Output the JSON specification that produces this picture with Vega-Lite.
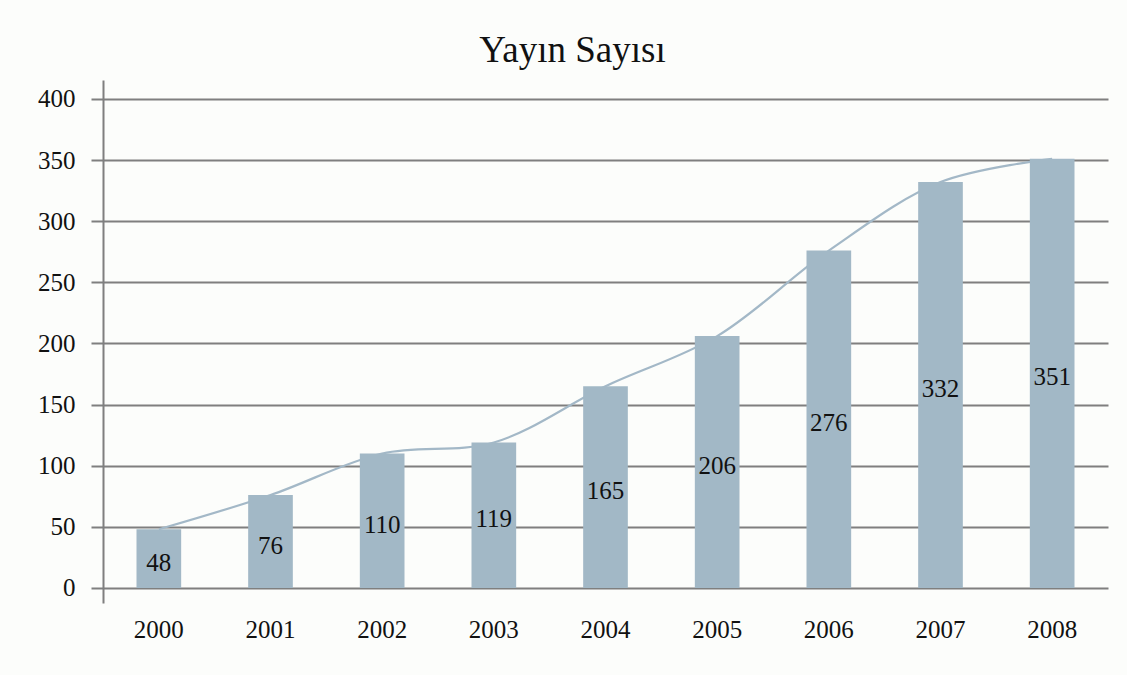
{
  "$schema": "https://vega.github.io/schema/vega-lite/v6.json",
  "width": 1005,
  "height": 523,
  "autosize": {"type": "none"},
  "padding": {"left": 103, "top": 80, "right": 19, "bottom": 72},
  "background": "#fcfdfb",
  "title": {
    "text": "Yayın Sayısı",
    "font": "Liberation Serif",
    "fontSize": 37,
    "fontWeight": "normal",
    "color": "#111111",
    "anchor": "middle",
    "dx": -33,
    "offset": 10
  },
  "config": {
    "view": {"stroke": null},
    "axis": {"labelFont": "Liberation Serif", "labelColor": "#111111"}
  },
  "data": {
    "values": [
      {"year": "2000", "value": 48},
      {"year": "2001", "value": 76},
      {"year": "2002", "value": 110},
      {"year": "2003", "value": 119},
      {"year": "2004", "value": 165},
      {"year": "2005", "value": 206},
      {"year": "2006", "value": 276},
      {"year": "2007", "value": 332},
      {"year": "2008", "value": 351}
    ]
  },
  "encoding": {
    "x": {
      "field": "year",
      "type": "ordinal",
      "scale": {"paddingInner": 0.6, "paddingOuter": 0.3},
      "axis": {
        "title": null,
        "labelAngle": 0,
        "labelFontSize": 25,
        "ticks": false,
        "domain": false,
        "grid": false,
        "labelPadding": 14
      }
    }
  },
  "layer": [
    {
      "mark": {"type": "line", "interpolate": "catmull-rom", "stroke": "#a3b8c7", "strokeWidth": 2.2},
      "encoding": {
        "y": {
          "field": "value",
          "type": "quantitative",
          "scale": {"domain": [-12.3, 415.5], "nice": false, "zero": false},
          "axis": {
            "title": null,
            "values": [0, 50, 100, 150, 200, 250, 300, 350, 400],
            "labelFontSize": 25,
            "grid": true,
            "gridColor": "#7f7f7f",
            "gridWidth": 2,
            "gridOpacity": 1,
            "domain": true,
            "domainColor": "#7f7f7f",
            "domainWidth": 2,
            "tickColor": "#7f7f7f",
            "tickWidth": 2,
            "tickSize": 12,
            "labelPadding": 16
          }
        }
      }
    },
    {
      "mark": {"type": "bar", "color": "#a2b8c6"},
      "encoding": {
        "y": {
          "field": "value",
          "type": "quantitative",
          "scale": {"domain": [-12.3, 415.5], "nice": false, "zero": false},
          "axis": null
        },
        "y2": {"datum": 0}
      }
    },
    {
      "mark": {"type": "text", "font": "Liberation Serif", "fontSize": 25, "color": "#111111", "baseline": "middle", "dy": 4},
      "encoding": {
        "y": {
          "field": "value",
          "type": "quantitative",
          "scale": {"domain": [-24.6, 831], "nice": false, "zero": false},
          "axis": null
        },
        "text": {"field": "value", "type": "quantitative"}
      }
    }
  ],
  "resolve": {"scale": {"y": "independent"}}
}
